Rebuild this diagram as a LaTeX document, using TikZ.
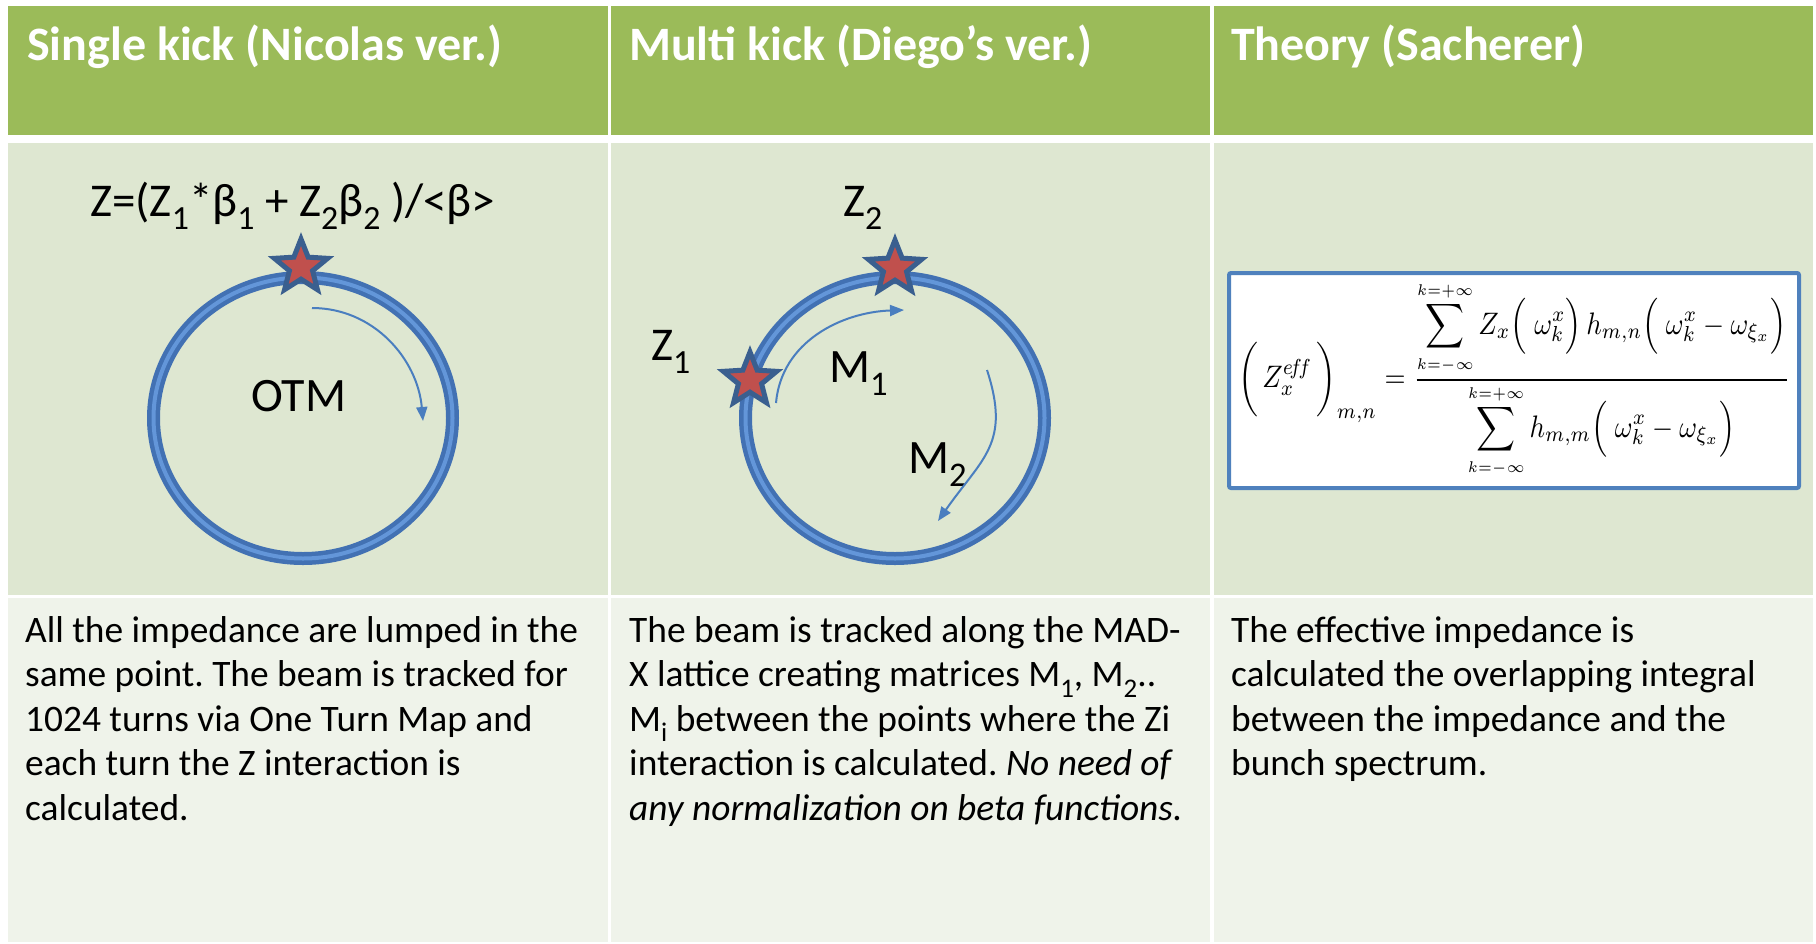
\documentclass[tikz,border=0pt]{standalone}
\usepackage{fontspec}
\setmainfont{Carlito}
\usepackage{graphicx}
\usepackage{amsmath}
\usetikzlibrary{shapes.geometric,arrows.meta}
\setlength{\parindent}{0pt}
\frenchspacing
\definecolor{hdr}{HTML}{9BBB59}
\definecolor{midrow}{HTML}{DEE7D1}
\definecolor{lowrow}{HTML}{EFF3EA}
\definecolor{ringdark}{HTML}{4271B3}
\definecolor{ringlight}{HTML}{6396D9}
\definecolor{arrowblue}{HTML}{4A7EBF}
\definecolor{stardark}{HTML}{3A5F8F}
\definecolor{starred}{HTML}{C0504D}
\definecolor{boxblue}{HTML}{4F81BD}
\newcommand{\lsub}[1]{\raisebox{-0.28em}{\scalebox{0.72}{#1}}}
\newcommand{\bodypar}[1]{\parbox[t]{595pt}{\raggedright\fontsize{37.4}{44.6}\selectfont #1}}
\newcommand{\sumlim}[1]{\scriptscriptstyle #1}
\begin{document}
\begin{tikzpicture}[x=1pt,y=-1pt,
  hdrtext/.style={anchor=base west,inner sep=0pt,text=white,font=\fontsize{48}{58}\selectfont\bfseries},
  bodytext/.style={anchor=base west,inner sep=0pt},
  lbl/.style={anchor=base west,inner sep=0pt,font=\fontsize{47}{56}\selectfont},
  biglbl/.style={anchor=base west,inner sep=0pt,font=\fontsize{48}{56}\selectfont},
  ringdk/.style={draw=ringdark,line width=13pt},
  ringlt/.style={draw=ringlight,line width=4pt},
  starnode/.style={star,star points=5,star point ratio=2.3,minimum size=56pt,inner sep=0pt,fill=starred,draw=stardark,line width=5pt},
  arr/.style={draw=arrowblue,line width=2pt,-{Triangle[length=14pt,width=11pt]}}
]
\useasboundingbox (0,0) rectangle (1816,943);
\fill[white] (0,0) rectangle (1816,943);
% header row
\fill[hdr] (8,6) rectangle (608,135);
\fill[hdr] (611,6) rectangle (1210,135);
\fill[hdr] (1214,6) rectangle (1813,135);
% middle row
\fill[midrow] (8,143) rectangle (608,595);
\fill[midrow] (611,143) rectangle (1210,595);
\fill[midrow] (1214,143) rectangle (1813,595);
% bottom row
\fill[lowrow] (8,598) rectangle (608,942);
\fill[lowrow] (611,598) rectangle (1210,942);
\fill[lowrow] (1214,598) rectangle (1813,942);

% headers
\node[hdrtext] (h1) at (27,60) {Single kick (Nicolas ver.)};
\node[hdrtext] (h2) at (629,60) {Multi kick (Diego’s ver.)};
\node[hdrtext] (h3) at (1231,60) {Theory (Sacherer)};

% column 1 drawing
\node[lbl] (zform) at (90,216) {Z=(Z\lsub{1}*β\lsub{1} + Z\lsub{2}β\lsub{2} )/<β>};
\draw[ringdk] (303,418) ellipse [x radius=149.5pt, y radius=140.5pt];
\draw[ringlt] (303,418) ellipse [x radius=149.5pt, y radius=140.5pt];
\node[starnode] (s1) at (301,267) {};
\node[biglbl] (otm) at (251,411) {OTM};
\coordinate (a1s) at (312,308);
\coordinate (a1e) at (423,421);
\draw[arr] (a1s) to[out=0,in=95] (a1e);

% column 2 drawing
\draw[ringdk] (895,418) ellipse [x radius=149.5pt, y radius=140.5pt];
\draw[ringlt] (895,418) ellipse [x radius=149.5pt, y radius=140.5pt];
\node[starnode] (s2) at (895,268) {};
\node[starnode] (s3) at (750,380) {};
\node[lbl] (z2) at (843,216) {Z\lsub{2}};
\node[lbl] (z1) at (651,360) {Z\lsub{1}};
\node[biglbl] (m1) at (829,382) {M\lsub{1}};
\node[biglbl] (m2) at (908,473) {M\lsub{2}};
\coordinate (a2s) at (776,403);
\coordinate (a2e) at (904,310);
\draw[arr] (a2s) to[out=85,in=182] (a2e);
\coordinate (a3s) at (987,370);
\coordinate (a3e) at (938,521);
\draw[arr] (a3s) to[out=-72,in=55,looseness=1.25] (a3e);

% column 3 formula
\draw[boxblue,line width=4pt,fill=white,rounded corners=2pt] (1229,273) rectangle (1799,488);
\node[inner sep=0pt] (formula) at (1514,380) {\resizebox*{552pt}{197pt}{$\displaystyle \biggl(\,Z_x^{e\!f\!f}\,\biggr)_{m,n} = \frac{\displaystyle\sum_{\sumlim{k=-\infty}}^{\sumlim{k=+\infty}} Z_x\Big(\;\omega_k^x\Big)\, h_{m,n}\Big(\;\omega_k^x-\omega_{\xi_x}\Big)}{\displaystyle\sum_{\sumlim{k=-\infty}}^{\sumlim{k=+\infty}} h_{m,m}\Big(\;\omega_k^x-\omega_{\xi_x}\Big)}$}};

% body texts
\node[bodytext] (b1) at (25,642) {\bodypar{All the impedance are lumped in the\\same point. The beam is tracked for\\1024 turns via One Turn Map and\\each turn the Z interaction is\\calculated.}};
\node[bodytext] (b2) at (629,642) {\bodypar{The beam is tracked along the MAD-\\X lattice creating matrices M\lsub{1}, M\lsub{2}..\\M\lsub{i} between the points where the Zi\\interaction is calculated. \textit{No need of}\\\textit{any normalization on beta functions.}}};
\node[bodytext] (b3) at (1231,642) {\bodypar{The effective impedance is\\calculated the overlapping integral\\between the impedance and the\\bunch spectrum.}};
\end{tikzpicture}
\end{document}
